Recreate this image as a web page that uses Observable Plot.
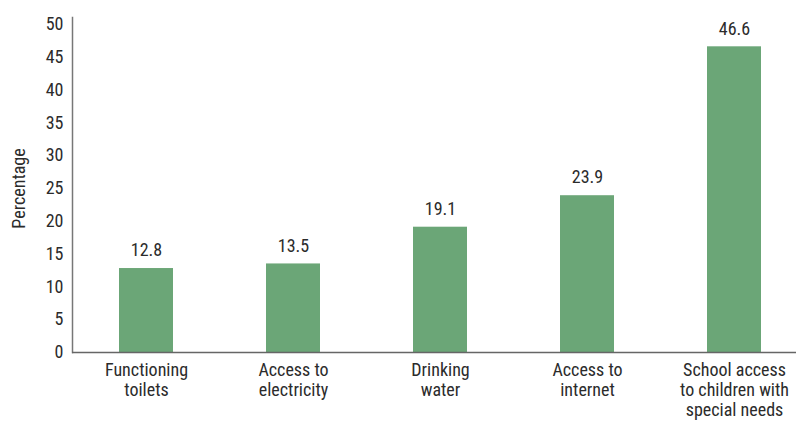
<!DOCTYPE html>
<html>
<head>
<meta charset="utf-8">
<script src="https://cdn.jsdelivr.net/npm/d3@7"></script>
<script src="https://cdn.jsdelivr.net/npm/@observablehq/plot@0.6"></script>
<style>
  html, body { margin: 0; padding: 0; background: #fff; }
  #chart svg { display: block; }
</style>
</head>
<body>
<div id="chart"></div>
<script>
const categories = [
  "Functioning\ntoilets",
  "Access to\nelectricity",
  "Drinking\nwater",
  "Access to\ninternet",
  "School access\nto children with\nspecial needs"
];
const values = [12.8, 13.5, 19.1, 23.9, 46.6];
const yTicks = [0, 5, 10, 15, 20, 25, 30, 35, 40, 45, 50];

const data = categories.map((c, i) => ({category: c, value: values[i]}));
const font = "'Roboto Condensed', 'Liberation Sans Narrow', 'DejaVu Sans Condensed', Roboto, sans-serif";

const chart = Plot.plot({
  width: 796,
  height: 421,
  marginLeft: 72,
  marginRight: 0,
  marginTop: 24,
  marginBottom: 69,
  style: {fontFamily: font, fontSize: "18px", color: "#2b2b2b", background: "#fff", overflow: "visible"},
  x: {domain: categories, range: [72, 807], paddingInner: 0.633, paddingOuter: 0.312},
  y: {domain: [0, 50]},
  marks: [
    Plot.barY(data, {x: "category", y: "value", fill: "#6ba677"}),
    Plot.text(data, {x: "category", y: "value", text: d => d.value.toFixed(1), dy: -18, fontSize: 18, fill: "#2b2b2b"}),
    Plot.frame({anchor: "left", stroke: "#777", strokeWidth: 1.5, insetTop: -7}),
    Plot.axisY({ticks: yTicks, tickSize: 0, tickPadding: 9, fontSize: 18,
      label: "Percentage", labelAnchor: "center", labelArrow: "none", labelOffset: 60}),
    Plot.axisX({tickSize: 0, tickPadding: 9, fontSize: 18, lineHeight: 1.12, label: null}),
    Plot.ruleY([0], {stroke: "#666", strokeWidth: 1.5})
  ]
});
document.getElementById("chart").appendChild(chart);
</script>
</body>
</html>
